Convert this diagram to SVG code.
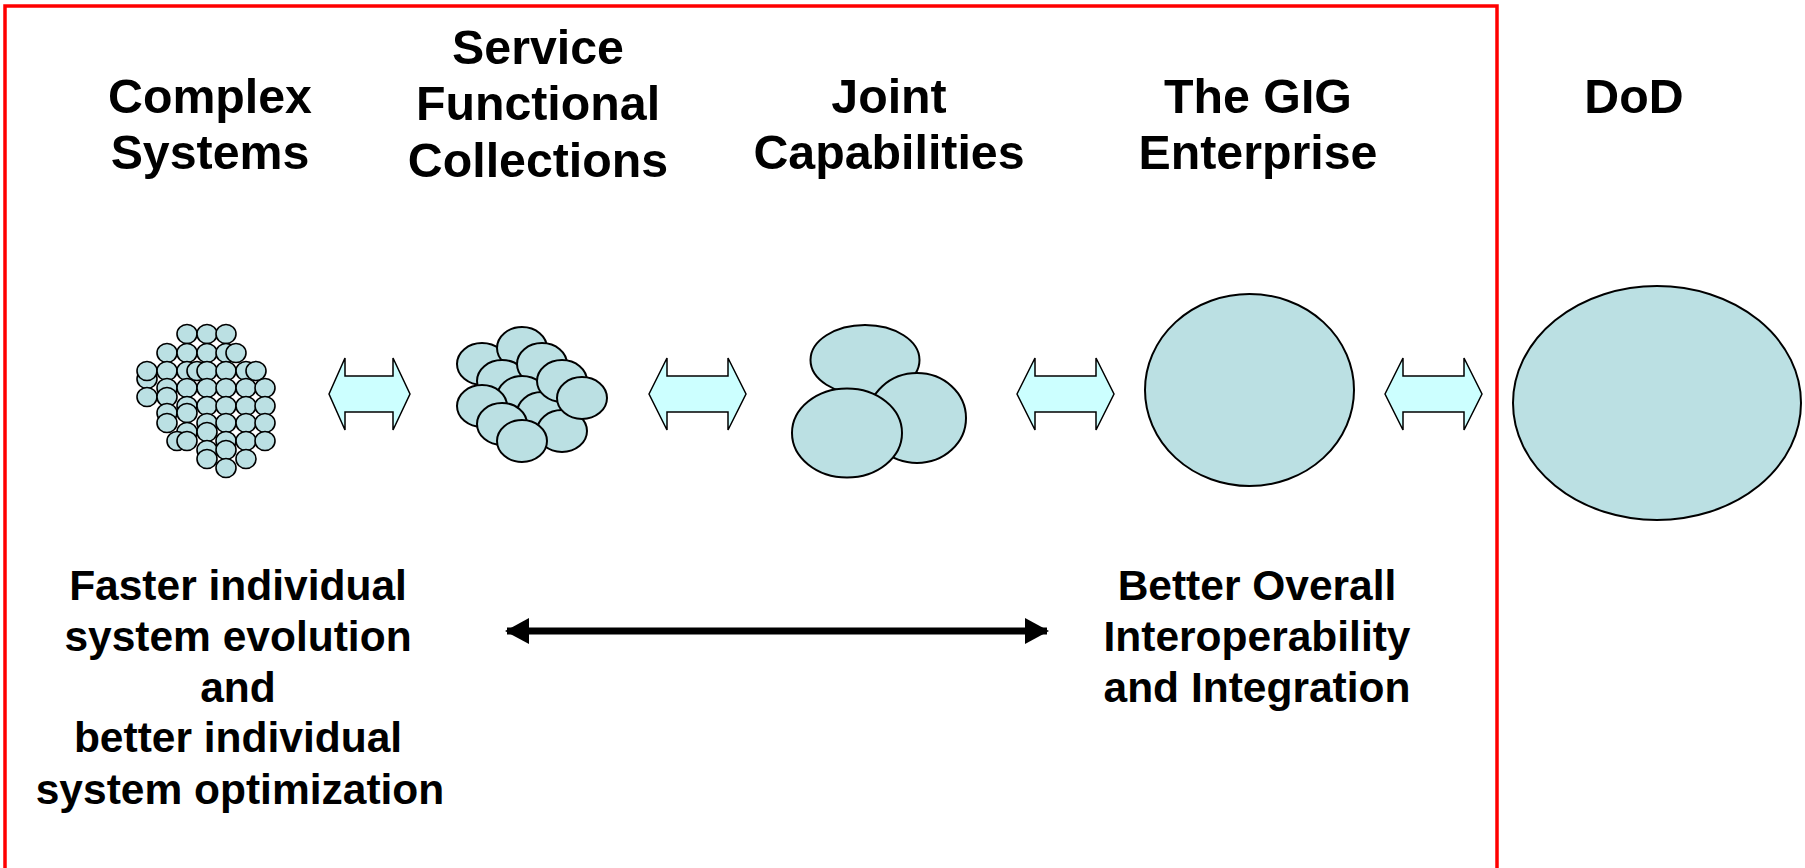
<svg xmlns="http://www.w3.org/2000/svg" width="1805" height="868" viewBox="0 0 1805 868">
<style>
.t{font-family:"Liberation Sans",Arial,sans-serif;font-weight:bold;fill:#000;text-anchor:middle}
.h{font-size:48.3px}
.b{font-size:42.5px}
.e{fill:#BBE0E3;stroke:#000;stroke-width:2}
.s{fill:#BBE0E3;stroke:#000;stroke-width:1.6}
.ba{fill:#CCFFFF;stroke:#000;stroke-width:1.5;stroke-linejoin:miter}
</style>
<defs>
<marker id="ah" viewBox="0 0 24 26" refX="22" refY="13" markerWidth="24" markerHeight="26" markerUnits="userSpaceOnUse" orient="auto-start-reverse">
<path d="M0,0 L24,13 L0,26 Z" fill="#000"/>
</marker>
</defs>
<rect id="frame" x="5" y="6" width="1492" height="880" fill="none" stroke="#FF0000" stroke-width="3.5"/>

<g id="complex-systems">
<text class="t h" x="210" y="113">Complex</text>
<text class="t h" x="210" y="169">Systems</text>
<g>
<ellipse class="s" cx="147" cy="379" rx="10" ry="9.5"/>
<ellipse class="s" cx="187" cy="334" rx="10" ry="9.5"/>
<ellipse class="s" cx="207" cy="334" rx="10" ry="9.5"/>
<ellipse class="s" cx="226" cy="334" rx="10" ry="9.5"/>
<ellipse class="s" cx="167" cy="353" rx="10" ry="9.5"/>
<ellipse class="s" cx="187" cy="353" rx="10" ry="9.5"/>
<ellipse class="s" cx="207" cy="353" rx="10" ry="9.5"/>
<ellipse class="s" cx="226" cy="353" rx="10" ry="9.5"/>
<ellipse class="s" cx="236" cy="353" rx="10" ry="9.5"/>
<ellipse class="s" cx="147" cy="371" rx="10" ry="9.5"/>
<ellipse class="s" cx="167" cy="371" rx="10" ry="9.5"/>
<ellipse class="s" cx="187" cy="371" rx="10" ry="9.5"/>
<ellipse class="s" cx="197" cy="371" rx="10" ry="9.5"/>
<ellipse class="s" cx="207" cy="371" rx="10" ry="9.5"/>
<ellipse class="s" cx="226" cy="371" rx="10" ry="9.5"/>
<ellipse class="s" cx="246" cy="371" rx="10" ry="9.5"/>
<ellipse class="s" cx="256" cy="371" rx="10" ry="9.5"/>
<ellipse class="s" cx="167" cy="388" rx="10" ry="9.5"/>
<ellipse class="s" cx="187" cy="388" rx="10" ry="9.5"/>
<ellipse class="s" cx="207" cy="388" rx="10" ry="9.5"/>
<ellipse class="s" cx="226" cy="388" rx="10" ry="9.5"/>
<ellipse class="s" cx="246" cy="388" rx="10" ry="9.5"/>
<ellipse class="s" cx="265" cy="388" rx="10" ry="9.5"/>
<ellipse class="s" cx="147" cy="397" rx="10" ry="9.5"/>
<ellipse class="s" cx="167" cy="397" rx="10" ry="9.5"/>
<ellipse class="s" cx="187" cy="406" rx="10" ry="9.5"/>
<ellipse class="s" cx="207" cy="406" rx="10" ry="9.5"/>
<ellipse class="s" cx="226" cy="406" rx="10" ry="9.5"/>
<ellipse class="s" cx="246" cy="406" rx="10" ry="9.5"/>
<ellipse class="s" cx="265" cy="406" rx="10" ry="9.5"/>
<ellipse class="s" cx="167" cy="413" rx="10" ry="9.5"/>
<ellipse class="s" cx="187" cy="413" rx="10" ry="9.5"/>
<ellipse class="s" cx="167" cy="423" rx="10" ry="9.5"/>
<ellipse class="s" cx="207" cy="423" rx="10" ry="9.5"/>
<ellipse class="s" cx="226" cy="423" rx="10" ry="9.5"/>
<ellipse class="s" cx="246" cy="423" rx="10" ry="9.5"/>
<ellipse class="s" cx="265" cy="423" rx="10" ry="9.5"/>
<ellipse class="s" cx="187" cy="432" rx="10" ry="9.5"/>
<ellipse class="s" cx="207" cy="432" rx="10" ry="9.5"/>
<ellipse class="s" cx="177" cy="441" rx="10" ry="9.5"/>
<ellipse class="s" cx="187" cy="441" rx="10" ry="9.5"/>
<ellipse class="s" cx="226" cy="441" rx="10" ry="9.5"/>
<ellipse class="s" cx="246" cy="441" rx="10" ry="9.5"/>
<ellipse class="s" cx="265" cy="441" rx="10" ry="9.5"/>
<ellipse class="s" cx="207" cy="450" rx="10" ry="9.5"/>
<ellipse class="s" cx="226" cy="450" rx="10" ry="9.5"/>
<ellipse class="s" cx="207" cy="459" rx="10" ry="9.5"/>
<ellipse class="s" cx="246" cy="459" rx="10" ry="9.5"/>
<ellipse class="s" cx="226" cy="468" rx="10" ry="9.5"/>
</g>
</g>

<g id="service-functional-collections">
<text class="t h" x="538" y="64">Service</text>
<text class="t h" x="538" y="120">Functional</text>
<text class="t h" x="538" y="177">Collections</text>
<ellipse class="e" cx="482" cy="364" rx="25" ry="21"/>
<ellipse class="e" cx="522" cy="348" rx="25" ry="21"/>
<ellipse class="e" cx="502" cy="381" rx="25" ry="21"/>
<ellipse class="e" cx="542" cy="364" rx="25" ry="21"/>
<ellipse class="e" cx="522" cy="397" rx="25" ry="21"/>
<ellipse class="e" cx="542" cy="413" rx="25" ry="21"/>
<ellipse class="e" cx="562" cy="431" rx="25" ry="21"/>
<ellipse class="e" cx="562" cy="381" rx="25" ry="21"/>
<ellipse class="e" cx="582" cy="398" rx="25" ry="21"/>
<ellipse class="e" cx="482" cy="406" rx="25" ry="21"/>
<ellipse class="e" cx="502" cy="424" rx="25" ry="21"/>
<ellipse class="e" cx="522" cy="441" rx="25" ry="21"/>
</g>

<g id="joint-capabilities">
<text class="t h" x="889" y="113">Joint</text>
<text class="t h" x="889" y="169">Capabilities</text>
<ellipse class="e" cx="865" cy="360" rx="54.5" ry="35"/>
<ellipse class="e" cx="917" cy="418" rx="49" ry="45"/>
<ellipse class="e" cx="847" cy="433" rx="55" ry="44.5"/>
</g>

<g id="gig-enterprise">
<text class="t h" x="1258" y="113">The GIG</text>
<text class="t h" x="1258" y="169">Enterprise</text>
<ellipse class="e" cx="1249.5" cy="390" rx="104.5" ry="96"/>
</g>

<g id="dod">
<text class="t h" x="1634" y="113">DoD</text>
<ellipse class="e" cx="1657" cy="403" rx="144" ry="117"/>
</g>

<g id="left-note">
<text class="t b" x="238" y="600">Faster individual</text>
<text class="t b" x="238" y="651">system evolution</text>
<text class="t b" x="238" y="702">and</text>
<text class="t b" x="238" y="752">better individual</text>
<text class="t b" x="240" y="804">system optimization</text>
</g>

<g id="right-note">
<text class="t b" x="1257" y="600">Better Overall</text>
<text class="t b" x="1257" y="651">Interoperability</text>
<text class="t b" x="1257" y="702">and Integration</text>
</g>

<g id="connectors">
<path class="ba" d="M329,394 L345,358 L345,376 L393,376 L393,358 L410,394 L393,430 L393,412 L345,412 L345,430 Z"/>
<path class="ba" d="M649,394 L667,358 L667,376 L728,376 L728,358 L746,394 L728,430 L728,412 L667,412 L667,430 Z"/>
<path class="ba" d="M1017,394 L1035,358 L1035,376 L1096,376 L1096,358 L1114,394 L1096,430 L1096,412 L1035,412 L1035,430 Z"/>
<path class="ba" d="M1385,394 L1403,358 L1403,376 L1464,376 L1464,358 L1482,394 L1464,430 L1464,412 L1403,412 L1403,430 Z"/>
<line x1="507" y1="631" x2="1047" y2="631" stroke="#000" stroke-width="7" marker-start="url(#ah)" marker-end="url(#ah)"/>
</g>
</svg>
